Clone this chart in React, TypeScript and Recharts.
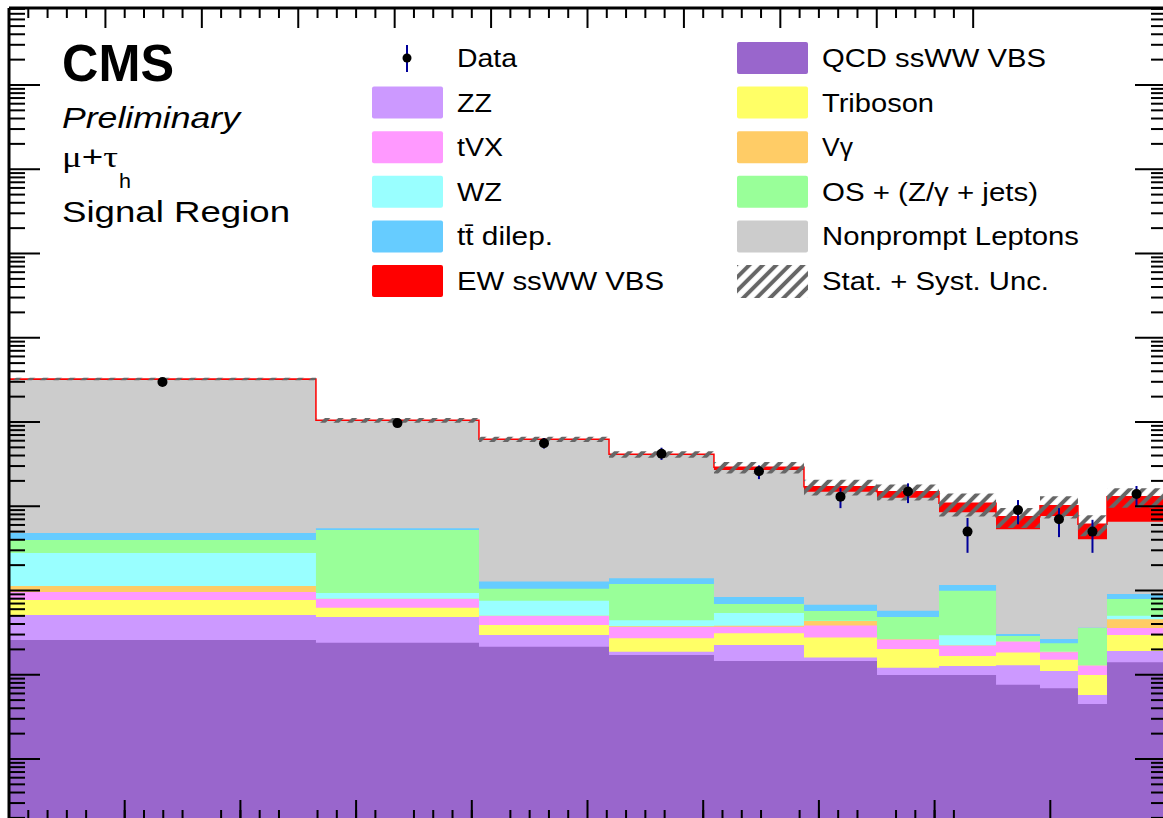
import React from 'react';
import { ComposedChart, Area, Scatter, ErrorBar, XAxis, YAxis } from 'recharts';

// bin edges along the (unlabelled) x axis, 0..10
const binEdges = [0, 2.653, 4.062, 5.186, 6.093, 6.871, 7.502, 8.038, 8.531, 8.911, 9.239, 9.49, 10];

// expected yields per bin, bottom of the stack first
const qcdSsWW = [0.259, 0.24, 0.215, 0.172, 0.146, 0.146, 0.099, 0.099, 0.076, 0.069, 0.045, 0.141];
const zz = [0.253, 0.245, 0.081, 0.015, 0.08, 0.014, 0.022, 0.028, 0.054, 0.042, 0.0125, 0.051];
const triboson = [0.259, 0.14, 0.093, 0.085, 0.085, 0.116, 0.081, 0.04, 0.054, 0.04, 0.042, 0.105];
const tVX = [0.189, 0.168, 0.109, 0.098, 0.061, 0.107, 0.058, 0.054, 0.062, 0.034, 0.028, 0.063];
const vGamma = [0.171, 0.005, 0.005, 0.007, 0.01, 0.052, 0.003, 0.002, 0.002, 0.002, 0.001, 0.096];
const wz = [1.656, 0.134, 0.252, 0.067, 0.159, 0.003, 0.003, 0.071, 0.002, 0.002, 0.001, 0.047];
const osZjets = [1.188, 4.3, 0.291, 0.752, 0.151, 0.134, 0.218, 0.701, 0.038, 0.048, 0.23, 0.29];
const ttDilep = [0.839, 0.249, 0.23, 0.201, 0.146, 0.107, 0.091, 0.167, 0.016, 0.029, 0.001, 0.116];
const nonprompt = [310.3, 97.3, 59.9, 39.2, 26.1, 14.2, 12.06, 7.31, 5.02, 7.39, 3.69, 5.65];
const ewSsWW = [8.8, 2.0, 1.18, 0.78, 2.06, 2.17, 2.25, 2.37, 2.19, 2.49, 2.05, 6.42];

// stat. + syst. uncertainty on the total
const totalUnc = [12, 7, 4.4, 3.7, 4.5, 3.6, 3.2, 3.3, 2.0, 3.0, 1.7, 3.4];

// observed events and their error bars
const observed = [298, 97, 56, 42, 26, 13, 15, 5, 9, 7, 5, 14];
const observedErrLow = [17, 10, 7.5, 6.5, 5, 3.5, 4.1, 2.2, 2.9, 2.7, 2.2, 4.1];
const observedErrHigh = [17, 11, 8.5, 7.5, 4.5, 3.5, 3.7, 2.25, 2.85, 2.5, 1.9, 3.4];

const stack = [
  { key: 'qcd', name: 'QCD ssWW VBS', color: '#9966cc', values: qcdSsWW },
  { key: 'zz', name: 'ZZ', color: '#cc99ff', values: zz },
  { key: 'tri', name: 'Triboson', color: '#ffff66', values: triboson },
  { key: 'tvx', name: 'tVX', color: '#ff99ff', values: tVX },
  { key: 'vg', name: 'V\u03b3', color: '#ffcc66', values: vGamma },
  { key: 'wz', name: 'WZ', color: '#99ffff', values: wz },
  { key: 'os', name: 'OS + (Z/\u03b3 + jets)', color: '#99ff99', values: osZjets },
  { key: 'tt', name: 'tt\u0304 dilep.', color: '#66ccff', values: ttDilep },
  { key: 'np', name: 'Nonprompt Leptons', color: '#cccccc', values: nonprompt },
  { key: 'ew', name: 'EW ssWW VBS', color: '#ff0000', values: ewSsWW },
];

const nBins = binEdges.length - 1;

// one row per bin edge, cumulative sums for the stacked histogram
const histRows = binEdges.map((x, i) => {
  const b = Math.min(i, nBins - 1);
  const row: Record<string, any> = { x };
  let sum = 0;
  stack.forEach(s => {
    sum += s.values[b];
    row[s.key] = sum;
  });
  row.band = [sum - totalUnc[b], sum + totalUnc[b]];
  return row;
});

const dataPoints = observed.map((n, i) => ({
  x: (binEdges[i] + binEdges[i + 1]) / 2,
  n,
  err: [observedErrLow[i], observedErrHigh[i]],
}));

const Y_MIN = 1.888e-3;
const Y_MAX = 8.2e6;

const yMajor: number[] = [];
const yMinor: number[] = [];
for (let k = -3; k <= 6; k++) {
  const d = Math.pow(10, k);
  if (d > Y_MIN && d < Y_MAX) yMajor.push(d);
  for (let m = 2; m <= 9; m++) {
    const v = m * d;
    if (v > Y_MIN && v < Y_MAX) yMinor.push(v);
  }
}
const xMajor = Array.from({ length: 11 }, (_, i) => i);
const xMinor = Array.from({ length: 51 }, (_, i) => i / 5).filter((_, i) => i % 5 !== 0);

const tickLineStyle = { stroke: '#000', strokeWidth: 2 };
const frameStyle = { stroke: '#000', strokeWidth: 3 };
const noLabel = () => <g />;
// axes need a non-zero size to be drawn at all
const THIN = 0.01;

const colorOf = (key: string) => stack.find(s => s.key === key)!.color;

const legendLeft = [
  { label: 'Data', kind: 'data', w: 60 },
  { label: 'ZZ', key: 'zz', w: 35 },
  { label: 'tVX', key: 'tvx', w: 46 },
  { label: 'WZ', key: 'wz', w: 45 },
  { label: 'tt\u0304 dilep.', key: 'tt', w: 96 },
  { label: 'EW ssWW VBS', key: 'ew', w: 207 },
];
const legendRight = [
  { label: 'QCD ssWW VBS', key: 'qcd', w: 224 },
  { label: 'Triboson', key: 'tri', w: 112 },
  { label: 'V\u03b3', key: 'vg', w: 31 },
  { label: 'OS + (Z/\u03b3 + jets)', key: 'os', w: 216 },
  { label: 'Nonprompt Leptons', key: 'np', w: 257 },
  { label: 'Stat. + Syst. Unc.', kind: 'hatch', w: 227 },
];

const LegendColumn = ({ items, boxX, textX }: { items: any[]; boxX: number; textX: number }) => (
  <g>
    {items.map((it, i) => {
      const cy = 58 + 44.6 * i;
      let marker;
      if (it.kind === 'data') {
        marker = (
          <g>
            <line x1={boxX + 35} x2={boxX + 35} y1={cy - 13} y2={cy + 14} stroke="#00009a" strokeWidth={2} />
            <circle cx={boxX + 35} cy={cy} r={4.5} fill="#000" />
          </g>
        );
      } else if (it.kind === 'hatch') {
        marker = <rect x={boxX} y={cy - 16} width={71} height={33} fill="url(#uncHatch)" />;
      } else {
        marker = <rect x={boxX} y={cy - 16} width={71} height={32} rx={2} fill={colorOf(it.key)} />;
      }
      return (
        <g key={it.label}>
          {marker}
          <text x={textX} y={cy + 9} fontSize={26} textLength={it.w} lengthAdjust="spacingAndGlyphs">
            {it.label}
          </text>
        </g>
      );
    })}
  </g>
);

const Annotations = () => (
  <svg
    width={1163}
    height={818}
    style={{ position: 'absolute', left: 0, top: 0, pointerEvents: 'none' }}
    fontFamily="'Liberation Sans', Arial, sans-serif"
    fill="#000"
  >
    <defs>
      <pattern id="uncHatch" patternUnits="userSpaceOnUse" width={9.5} height={9.5} patternTransform="rotate(45)">
        <line x1={4.75} y1={0} x2={4.75} y2={9.5} stroke="#666666" strokeWidth={4} />
      </pattern>
    </defs>
    <text x={62} y={81} fontSize={52} fontWeight="bold" textLength={112} lengthAdjust="spacingAndGlyphs">CMS</text>
    <text x={62} y={128} fontSize={30} fontStyle="italic" textLength={178} lengthAdjust="spacingAndGlyphs">Preliminary</text>
    <text x={62} y={167} fontSize={30} fontFamily="'Liberation Serif', serif" textLength={56} lengthAdjust="spacingAndGlyphs">
      {'\u03bc'}
      <tspan fontFamily="'Liberation Sans', Arial, sans-serif">+</tspan>
      {'\u03c4'}
    </text>
    <text x={119} y={188} fontSize={21} textLength={12} lengthAdjust="spacingAndGlyphs">h</text>
    <text x={62} y={222} fontSize={30} textLength={228} lengthAdjust="spacingAndGlyphs">Signal Region</text>
    <LegendColumn items={legendLeft} boxX={372} textX={457} />
    <LegendColumn items={legendRight} boxX={737} textX={822} />
  </svg>
);

const DataDot = (props: any) => <circle cx={props.cx} cy={props.cy} r={5} fill="#000" />;

const App: React.FC = () => {
  const drawOrder = [...stack].reverse();
  return (
    <div style={{ position: 'absolute', left: 0, top: 0, width: 1163, height: 818, overflow: 'hidden', background: '#fff' }}>
      <ComposedChart width={1166} height={820} data={histRows} margin={{ top: 8, right: 0, left: 9, bottom: 0 }}>
        {drawOrder.map(s => (
          <Area
            key={s.key}
            xAxisId="x"
            yAxisId="y"
            type="stepAfter"
            dataKey={s.key}
            fill={s.color}
            fillOpacity={1}
            stroke="none"
            dot={false}
            activeDot={false}
            isAnimationActive={false}
          />
        ))}
        <Area
          xAxisId="x"
          yAxisId="y"
          type="stepAfter"
          dataKey="ew"
          fill="none"
          stroke="#ff0000"
          strokeWidth={1.5}
          dot={false}
          activeDot={false}
          isAnimationActive={false}
        />
        <Area
          xAxisId="x"
          yAxisId="y"
          type="stepAfter"
          dataKey="band"
          fill="url(#uncHatch)"
          fillOpacity={1}
          stroke="none"
          dot={false}
          activeDot={false}
          isAnimationActive={false}
        />
        <Scatter xAxisId="x" yAxisId="y" data={dataPoints} dataKey="n" shape={DataDot} isAnimationActive={false}>
          <ErrorBar dataKey="err" direction="y" width={0} stroke="#00009a" strokeWidth={2} isAnimationActive={false} />
        </Scatter>

        <XAxis xAxisId="x" dataKey="x" type="number" domain={[0, 10]} allowDataOverflow ticks={xMajor} interval={0}
          orientation="bottom" mirror height={THIN} tickSize={20} tick={noLabel} tickLine={tickLineStyle} axisLine={false} />
        <XAxis xAxisId="xMinor" type="number" domain={[0, 10]} allowDataOverflow ticks={xMinor} interval={0}
          orientation="bottom" mirror height={THIN} tickSize={10} tick={noLabel} tickLine={tickLineStyle} axisLine={false} />
        <XAxis xAxisId="xTop" type="number" domain={[0, 10]} allowDataOverflow ticks={xMajor} interval={0}
          orientation="top" mirror height={THIN} tickSize={20} tick={noLabel} tickLine={tickLineStyle} axisLine={frameStyle} />
        <XAxis xAxisId="xTopMinor" type="number" domain={[0, 10]} allowDataOverflow ticks={xMinor} interval={0}
          orientation="top" mirror height={THIN} tickSize={10} tick={noLabel} tickLine={tickLineStyle} axisLine={false} />

        <YAxis yAxisId="y" type="number" scale="log" domain={[Y_MIN, Y_MAX]} allowDataOverflow ticks={yMajor} interval={0}
          orientation="left" mirror width={THIN} tickSize={31} tick={noLabel} tickLine={tickLineStyle} axisLine={frameStyle} />
        <YAxis yAxisId="yMinor" type="number" scale="log" domain={[Y_MIN, Y_MAX]} allowDataOverflow ticks={yMinor} interval={0}
          orientation="left" mirror width={THIN} tickSize={16} tick={noLabel} tickLine={tickLineStyle} axisLine={false} />
        <YAxis yAxisId="yRight" type="number" scale="log" domain={[Y_MIN, Y_MAX]} allowDataOverflow ticks={yMajor} interval={0}
          orientation="right" mirror width={THIN} tickSize={31} tick={noLabel} tickLine={tickLineStyle} axisLine={false} />
        <YAxis yAxisId="yRightMinor" type="number" scale="log" domain={[Y_MIN, Y_MAX]} allowDataOverflow ticks={yMinor} interval={0}
          orientation="right" mirror width={THIN} tickSize={15} tick={noLabel} tickLine={tickLineStyle} axisLine={false} />
      </ComposedChart>
      <Annotations />
    </div>
  );
};

export default App;
